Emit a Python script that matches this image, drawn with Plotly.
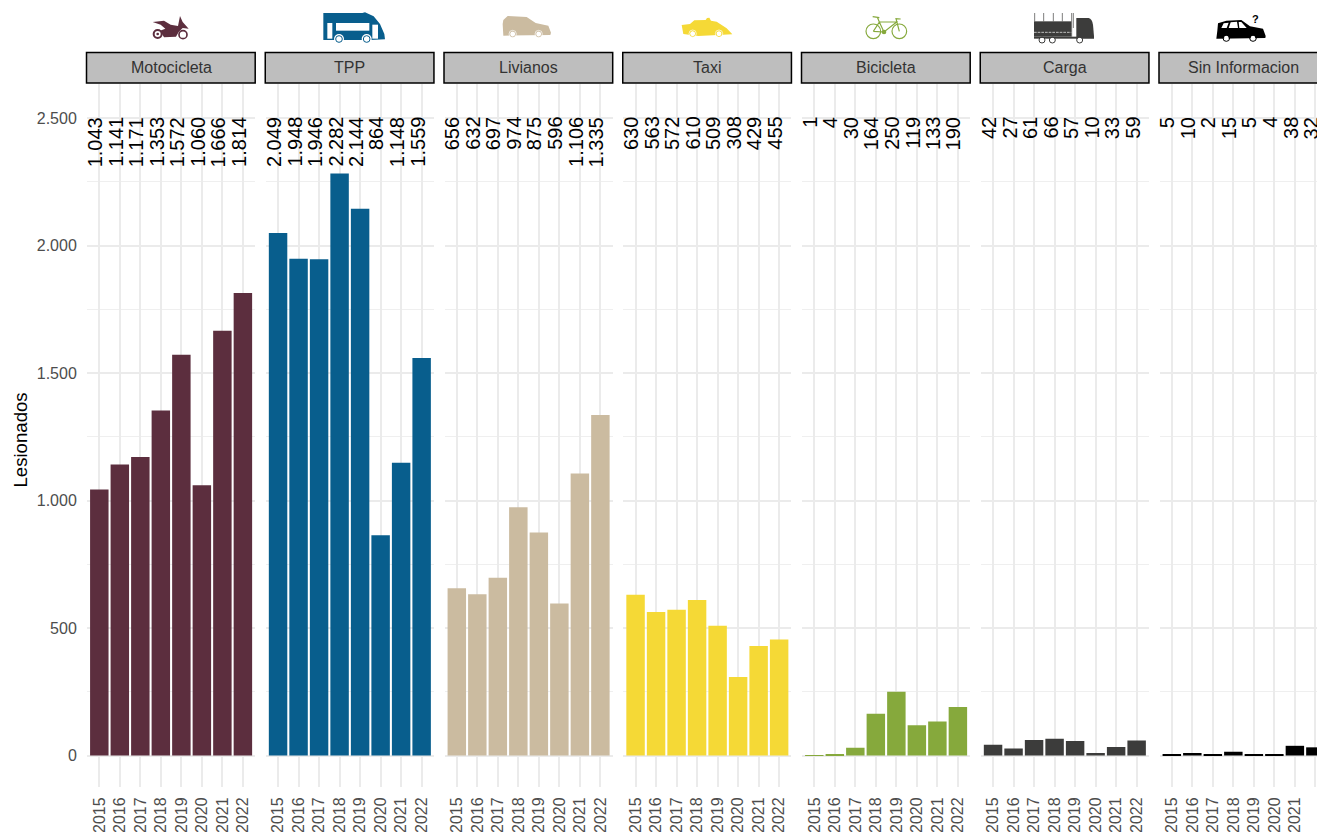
import base64
import plotly.graph_objects as go

# ---- data ----
years = [2015, 2016, 2017, 2018, 2019, 2020, 2021, 2022]
categories = ["Motocicleta", "TPP", "Livianos", "Taxi", "Bicicleta", "Carga", "Sin Informacion"]
motocicleta = [1043, 1141, 1171, 1353, 1572, 1060, 1666, 1814]
tpp = [2049, 1948, 1946, 2282, 2144, 864, 1148, 1559]
livianos = [656, 632, 697, 974, 875, 596, 1106, 1335]
taxi = [630, 563, 572, 610, 509, 308, 429, 455]
bicicleta = [1, 4, 30, 164, 250, 119, 133, 190]
carga = [42, 27, 61, 66, 57, 10, 33, 59]
sin_informacion = [5, 10, 2, 15, 5, 4, 38, 32]
series = [motocicleta, tpp, livianos, taxi, bicicleta, carga, sin_informacion]
colors = ["#5C2E3E", "#085E8D", "#CBBBA0", "#F5D936", "#86A93C", "#3C3C3B", "#000000"]
y_ticks = [0, 500, 1000, 1500, 2000, 2500]
y_tick_labels = ["0", "500", "1.000", "1.500", "2.000", "2.500"]

# ---- layout geometry (pixels) ----
W, H = 1317, 832
PANEL_LEFT, PANEL_STEP, PANEL_W = 87.0, 178.75, 168.2
PANEL_TOP, PANEL_BOTTOM = 84.0, 787.0
STRIP_TOP, STRIP_BOTTOM = 52.5, 83.0
ZERO_Y, PX_PER_UNIT = 755.5, 0.255
X_LOW, X_HIGH = 2014.4, 2022.6
GRID = "#EBEBEB"


def px(x):
    return x / W


def py(y):
    return 1 - y / H


def fmt(v):
    return f"{v:,}".replace(",", ".")


# ---- icons: SVG paths drawn in 3x crop coordinates ----
def ring(cx, cy, r, fill, white=3.5):
    return (f'<circle cx="{cx}" cy="{cy}" r="{r}" fill="{fill}" stroke="#fff" stroke-width="{white}"/>')


def outer(cx, cy, r, col):
    return f'<circle cx="{cx}" cy="{cy}" r="{r}" fill="none" stroke="{col}" stroke-width="3"/>'


M, B, L, T, C, K, S = colors
icons = [
    (140, 8, 60, 40,
     f'<path fill="{M}" d="M38,42 L72,38 L92,50 L114,54 L120,24 L128,42 L146,62 L128,60 L116,72 L108,86 L72,88 '
     f'L60,68 L76,62 L62,50 Z"/>'
     + f'<circle cx="53" cy="78" r="12" fill="none" stroke="{M}" stroke-width="6"/>'
     + f'<circle cx="129" cy="80" r="12" fill="none" stroke="{M}" stroke-width="5"/>'
     + f'<circle cx="53" cy="78" r="4" fill="{M}"/>'),
    (315, 8, 75, 40,
     f'<path fill="{B}" d="M25,15 L142,15 L150,13 L176,25 L195,48 L208,78 L210,94 L165,96 L25,96 Z"/>'
     '<rect x="63" y="45" width="100" height="23" fill="#fff"/>'
     '<rect x="37" y="45" width="15" height="47" fill="#fff"/>'
     '<rect x="172" y="50" width="17" height="42" fill="#fff"/>'
     + '<circle cx="72" cy="93" r="15" fill="#fff"/>' + outer(72, 93, 10, B)
     + '<circle cx="155" cy="93" r="15" fill="#fff"/>' + outer(155, 93, 10, B)),
    (495, 10, 65, 35,
     f'<path fill="{L}" d="M25,30 L38,18 L95,21 L122,39 L160,47 L168,68 L166,75 L25,77 L23,42 Z"/>'
     + ring(53, 72, 8, "#fff", 0) + outer(53, 72, 9, L) + '<circle cx="53" cy="72" r="11" fill="none" stroke="#fff" stroke-width="2"/>'
     + ring(131, 72, 8, "#fff", 0) + outer(131, 72, 9, L) + '<circle cx="131" cy="72" r="11" fill="none" stroke="#fff" stroke-width="2"/>'),
    (675, 10, 65, 35,
     f'<path fill="{T}" d="M20,45 L45,42 L58,31 L92,30 L96,24 L103,23 L108,32 L125,35 L155,55 L172,73 L70,78 L25,72 Z"/>'
     + ring(53, 71, 8, "#fff", 0) + outer(53, 71, 9, T) + '<circle cx="53" cy="71" r="11" fill="none" stroke="#fff" stroke-width="2"/>'
     + ring(132, 71, 8, "#fff", 0) + outer(132, 71, 9, T) + '<circle cx="132" cy="71" r="11" fill="none" stroke="#fff" stroke-width="2"/>'),
    (860, 8, 55, 40,
     f'<g fill="none" stroke="{C}" stroke-width="3.5"><circle cx="40" cy="70" r="22"/><circle cx="118" cy="70" r="22"/>'
     '<path d="M40,70 L72,72 L110,42 L58,42 L40,70 M58,42 L72,72 M58,42 L52,28 M38,26 L58,29 '
     'M118,70 L108,32 L122,33"/></g>'
     + f'<circle cx="72" cy="72" r="7" fill="{C}"/>'),
    (1028, 8, 75, 40,
     f'<g fill="{K}"><rect x="18" y="40" width="112" height="46"/>'
     '<path d="M145,30 L182,30 Q192,32 195,50 L198,85 L198,92 L145,92 Z"/>'
     '<rect x="18" y="86" width="130" height="6"/></g>'
     f'<g stroke="{K}" stroke-width="2" fill="none"><path d="M20,15 V40 M47,15 V40 M76,15 V40 M103,15 V40 M131,15 V86 M136,15 V60"/></g>'
     '<path d="M18,73 H130" stroke="#fff" stroke-width="2" stroke-dasharray="8 3" fill="none"/>'
     + ring(42, 96, 7, "#fff", 0) + outer(42, 96, 9, K) + ring(73, 96, 7, "#fff", 0) + outer(73, 96, 9, K)
     + ring(155, 96, 7, "#fff", 0) + outer(155, 96, 9, K)),
    (1208, 8, 65, 40,
     f'<path fill="{S}" d="M30,46 L55,38 L100,36 L126,55 L165,62 L173,84 L172,90 L25,92 L28,68 Z"/>'
     '<path fill="#fff" d="M40,60 L47,46 L62,44 L56,60 Z M62,60 L68,43 L87,41 L90,60 Z M94,60 L92,42 L100,42 L116,60 Z"/>'
     + ring(55, 90, 7, "#fff", 0) + outer(55, 90, 10, S) + ring(135, 90, 7, "#fff", 0) + outer(135, 90, 10, S)),
]

fig = go.Figure()
shapes, annotations, images = [], [], []
layout = {}

for i, (name, values, color) in enumerate(zip(categories, series, colors)):
    n = i + 1
    left = PANEL_LEFT + PANEL_STEP * i
    right = left + PANEL_W
    xa, ya = ("x" if n == 1 else f"x{n}"), ("y" if n == 1 else f"y{n}")
    fig.add_trace(go.Bar(x=years, y=values, width=0.9, marker=dict(color=color, line=dict(width=0)),
                         xaxis=xa, yaxis=ya, name=name, showlegend=False))
    clipped_right = min(right, W)
    x_high = X_LOW + (X_HIGH - X_LOW) * (clipped_right - left) / PANEL_W
    layout["xaxis" if n == 1 else f"xaxis{n}"] = dict(
        domain=[px(left), px(clipped_right)], range=[X_LOW, x_high], anchor=ya, automargin=False,
        tickmode="array", tickvals=years, ticktext=[str(v) for v in years], tickangle=-90,
        tickfont=dict(family="Liberation Sans", size=16, color="#4D4D4D"),
        ticks="outside", ticklen=3, tickcolor="rgba(0,0,0,0)",
        showgrid=True, gridcolor=GRID, gridwidth=1.8, zeroline=False, showline=False,
    )
    layout["yaxis" if n == 1 else f"yaxis{n}"] = dict(
        domain=[py(PANEL_BOTTOM), py(PANEL_TOP)],
        range=[-(PANEL_BOTTOM - ZERO_Y) / PX_PER_UNIT, (ZERO_Y - PANEL_TOP) / PX_PER_UNIT], anchor=xa,
        automargin=False,
        tickmode="array", tickvals=y_ticks, ticktext=y_tick_labels, showticklabels=n == 1,
        tickfont=dict(family="Liberation Sans", size=16, color="#4D4D4D"),
        ticks="outside" if n == 1 else "", ticklen=6, tickcolor="rgba(0,0,0,0)",
        showgrid=True, gridcolor=GRID, gridwidth=1.8, zeroline=False, showline=False,
        minor=dict(tickmode="array", tickvals=[250, 750, 1250, 1750, 2250], showgrid=True,
                   gridcolor="#EFEFEF", gridwidth=1, ticks=""),
    )
    for yr, v in zip(years, values):
        annotations.append(dict(x=yr, y=2500, xref=xa, yref=ya, text=fmt(v), textangle=-90, showarrow=False,
                                xanchor="center", yanchor="top", xshift=-4, yshift=1, borderpad=0, borderwidth=0,
                                font=dict(family="Liberation Sans", size=20, color="#000000")))
    shapes.append(dict(type="rect", xref="paper", yref="paper", x0=px(left - 0.5), x1=px(right), y0=py(STRIP_BOTTOM),
                       y1=py(STRIP_TOP), fillcolor="#BEBEBE", line=dict(color="#000000", width=1.5), layer="above"))
    annotations.append(dict(x=px(left + PANEL_W / 2), y=py((STRIP_TOP + STRIP_BOTTOM) / 2), xref="paper", yref="paper",
                            text=name, showarrow=False, xanchor="center", yanchor="middle",
                            font=dict(family="Liberation Sans", size=16, color="#333333")))

for (x0, y0, w, h, body) in icons:
    svg = (f'<svg xmlns="http://www.w3.org/2000/svg" width="{w*3}" height="{h*3}" '
           f'viewBox="0 0 {w*3} {h*3}">{body}</svg>')
    uri = "data:image/svg+xml;base64," + base64.b64encode(svg.encode()).decode()
    images.append(dict(source=uri, xref="paper", yref="paper", x=px(x0), y=py(y0), sizex=w / W, sizey=h / H,
                       xanchor="left", yanchor="top", sizing="stretch", layer="above"))

annotations.append(dict(x=px(1255), y=py(19), xref="paper", yref="paper", text="<b>?</b>", showarrow=False,
                        xanchor="center", yanchor="middle", font=dict(family="Liberation Sans", size=11, color="#000000")))
annotations.append(dict(x=px(20), y=py(440.5), xref="paper", yref="paper", text="Lesionados", textangle=-90,
                        showarrow=False, xanchor="center", yanchor="middle",
                        font=dict(family="Liberation Sans", size=18.6, color="#000000")))

fig.update_layout(width=W, height=H, margin=dict(l=0, r=0, t=0, b=0, pad=0), autosize=False,
                  paper_bgcolor="#FFFFFF", plot_bgcolor="#FFFFFF", bargap=0.1, showlegend=False,
                  shapes=shapes, annotations=annotations, images=images, **layout)

fig.write_html("out.html", config=dict(displayModeBar=False),
               post_script="document.body.style.margin='0';document.body.style.overflow='hidden';")
